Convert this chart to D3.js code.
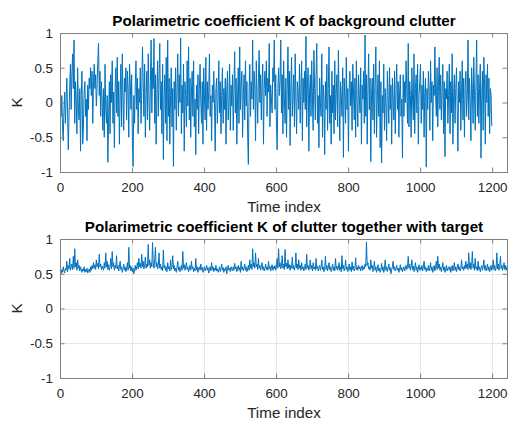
<!DOCTYPE html>
<html>
<head>
<meta charset="utf-8">
<script src="https://cdn.jsdelivr.net/npm/d3@7"></script>
<style>
  body { margin: 0; background: #fff; }
  text { font-family: "Liberation Sans", Arial, Helvetica, sans-serif; }
</style>
</head>
<body>
<div id="chart"></div>
<script>
// K of background clutter, every 2nd sample (time index 1..1199)
var clutterK = [
  -0.05, -0.2, 0.1, -0.35, -0.55, -0.1, 0.15, -0.3, 0.05, 0.35, -0.15, -0.68, -0.2, 0.25, 0.55, -0.1, 0.4, 0.7, 0.2, 0.9,
  -0.3, 0.3, 0.05, -0.45, 0.5, -0.1, -0.25, 0.2, -0.7, 0.1, 0.45, -0.6, -0.35, 0.15, 0.3, -0.2, 0.05, -0.55, 0.25, -0.1,
  0.35, 0.2, 0.5, 0.1, 0.45, -0.3, 0.3, 0.55, 0.2, 0.4, -0.05, 0.25, 0.6, 0.85, 0.1, 0.45, -0.2, 0.3, 0.05, -0.4,
  0.2, -0.5, 0.55, -0.1, -0.3, 0.1, -0.86, -0.2, 0.3, -0.45, 0.4, 0.0, 0.6, -0.3, 0.15, -0.65, 0.2, 0.5, -0.15, 0.65,
  -0.2, 0.3, -0.6, 0.1, 0.55, -0.35, 0.7, 0.05, -0.4, 0.35, 0.15, 0.5, -0.25, 0.45, 0.2, -0.5, 0.55, 0.3, -0.1, 0.4,
  -0.55, -0.92, 0.1, -0.3, 0.25, 0.6, -0.1, 0.35, -0.45, 0.2, 0.0, 0.5, -0.3, 0.15, 0.8, 0.3, -0.2, 0.55, -0.5, 0.1,
  0.45, -0.25, 0.7, 0.1, -0.4, 0.3, 0.9, -0.15, 0.5, 0.2, 0.92, -0.3, 0.4, -0.6, 0.15, 0.6, -0.2, 0.35, 0.85, -0.1,
  0.3, -0.45, 0.55, -0.82, 0.05, 0.4, -0.3, 0.65, -0.55, 0.9, -0.2, 0.35, -0.6, 0.1, 0.5, -0.35, 0.2, -0.92, 0.3, -0.1,
  0.5, -0.4, 0.2, 0.7, -0.2, 0.4, 0.0, 0.93, -0.45, 0.25, -0.15, 0.55, -0.7, 0.3, 0.1, -0.35, 0.6, -0.05, 0.8, -0.25,
  0.35, -0.5, 0.15, 0.45, -0.2, 0.6, -0.35, 0.05, -0.75, 0.25, -0.1, 0.4, -0.45, 0.2, 0.55, 0.0, -0.3, 0.3, -0.6, 0.5,
  0.1, -0.25, 0.65, -0.4, 0.3, -0.1, 0.15, 0.7, -0.2, 0.1, -0.55, 0.25, 0.0, 0.45, -0.05, -0.7, 0.2, 0.35, -0.3, 0.05,
  0.6, -0.15, 0.3, -0.45, 0.1, 0.5, -0.3, 0.2, -0.1, 0.35, -0.6, 0.15, 0.45, -0.25, 0.0, 0.55, -0.4, 0.25, -0.05, 0.4,
  -0.4, 0.2, 0.73, -0.15, 0.35, -0.6, 0.05, 0.5, -0.3, 0.8, -0.1, 0.25, 0.45, -0.5, 0.1, 0.4, -0.25, 0.6, -0.05, 0.3,
  -0.45, -0.89, 0.15, 0.55, -0.2, 0.3, 0.05, 0.9, -0.1, 0.45, 0.2, -0.55, 0.6, 0.1, -0.3, 0.35, 0.75, 0.0, 0.4, -0.25,
  0.3, 0.55, -0.6, 0.2, 0.45, 0.1, 0.6, -0.2, 0.35, 0.15, 0.85, -0.35, 0.25, 0.05, -0.15, 0.5, 0.3, 0.9, -0.1, 0.4,
  -0.3, -0.68, 0.2, 0.5, 0.1, 0.3, 0.9, -0.15, 0.4, -0.45, 0.6, 0.05, -0.3, 0.35, -0.5, 0.2, 0.8, -0.1, 0.45, -0.62,
  0.25, 0.65, -0.2, 0.1, 0.4, -0.35, 0.7, 0.05, -0.45, 0.3, 0.15, -0.1, 0.55, -0.3, 0.2, 0.6, -0.55, 0.35, 0.0, 0.45,
  -0.1, 0.95, -0.35, 0.3, 0.5, -0.7, 0.15, 0.4, -0.2, 0.6, 0.05, -0.4, 0.75, 0.2, -0.25, 0.4, 0.85, -0.3, 0.1, -0.65,
  0.35, 0.0, -0.2, 0.7, -0.5, 0.25, 0.05, -0.75, 0.3, -0.1, 0.55, -0.4, 0.2, 0.8, -0.3, 0.1, -0.6, 0.45, -0.15, 0.25,
  -0.45, 0.6, -0.25, 0.15, 0.4, -0.35, 0.75, 0.05, -0.55, 0.3, 0.1, -0.2, 0.5, -0.79, 0.35, 0.05, -0.3, 0.65, -0.1, 0.2,
  -0.7, 0.2, 0.45, -0.05, 0.3, -0.4, 0.55, 0.15, -0.25, 0.35, -0.5, 0.6, 0.0, -0.35, 0.4, 0.1, -0.15, 0.5, -0.6, 0.25,
  0.05, 0.45, -0.3, 0.97, -0.2, 0.4, -0.6, 0.2, 0.7, -0.1, 0.35, -0.85, 0.1, 0.35, -0.25, 0.55, -0.45, 0.25, 0.8, -0.5,
  0.05, 0.4, -0.2, 0.6, -0.65, 0.3, -0.87, 0.1, -0.15, 0.55, -0.4, 0.2, 0.0, -0.55, 0.45, 0.1, -0.3, 0.5, -0.1, 0.25,
  -0.6, 0.35, 0.05, -0.25, 0.45, -0.45, 0.2, 0.55, -0.1, 0.3, -0.5, 0.15, 0.4, -0.2, 0.05, -0.8, 0.4, -0.2, 0.3, 0.0,
  0.6, 0.15, -0.3, 0.85, -0.35, 0.3, 0.1, -0.5, 0.5, 0.05, -0.25, 0.7, -0.45, 0.2, 0.4, -0.15, 0.55, -0.6, 0.1, 0.3,
  0.55, -0.3, 0.25, -0.1, 0.45, -0.5, 0.15, 0.35, -0.93, 0.2, -0.1, 0.45, 0.15, -0.4, 0.6, 0.0, 0.3, -0.55, 0.25, 0.1,
  0.8, 0.1, -0.2, 0.5, -0.35, 0.25, 0.65, -0.1, 0.4, -0.25, 0.15, 0.55, -0.45, 0.3, -0.78, 0.2, 0.05, 0.45, -0.3, 0.1,
  0.55, -0.45, 0.3, -0.15, 0.7, -0.6, 0.1, 0.4, -0.3, 0.2, 0.5, -0.1, -0.7, 0.3, 0.0, 0.45, -0.4, 0.15, 0.6, -0.25,
  0.35, -0.5, 0.2, 0.45, -0.2, 0.1, 0.9, -0.25, 0.35, 0.05, -0.55, 0.5, 0.2, -0.3, 0.65, 0.1, -0.4, 0.3, 0.9, -0.2,
  0.4, -0.3, 0.2, 0.55, -0.8, 0.1, 0.45, -0.4, 0.65, 0.25, -0.6, 0.4, 0.0, 0.55, -0.2, 0.35, -0.45, 0.2, 0.1, -0.34
];

// K of clutter together with target, every 2nd sample (time index 1..1243)
var targetK = [
  0.53, 0.5, 0.56, 0.52, 0.6, 0.54, 0.51, 0.58, 0.55, 0.68, 0.53, 0.62, 0.57, 0.72, 0.55, 0.6, 0.64, 0.56, 0.75, 0.58,
  0.86, 0.6, 0.66, 0.55, 0.7, 0.58, 0.62, 0.54, 0.6, 0.56, 0.52, 0.57, 0.54, 0.6, 0.52, 0.56, 0.53, 0.58, 0.51, 0.55,
  0.57, 0.52, 0.6, 0.55, 0.62, 0.57, 0.66, 0.58, 0.63, 0.56, 0.7, 0.6, 0.65, 0.57, 0.78, 0.6, 0.64, 0.56, 0.61, 0.58,
  0.55, 0.66, 0.58, 0.8, 0.6, 0.68, 0.56, 0.63, 0.55, 0.6, 0.72, 0.57, 0.82, 0.6, 0.66, 0.55, 0.62, 0.58, 0.76, 0.57,
  0.62, 0.54, 0.6, 0.68, 0.56, 0.6, 0.52, 0.58, 0.64, 0.55, 0.6, 0.53, 0.57, 0.66, 0.55, 0.88, 0.58, 0.62, 0.54, 0.6,
  0.53, 0.58, 0.5, 0.56, 0.62, 0.55, 0.6, 0.66, 0.57, 0.72, 0.6, 0.65, 0.58, 0.78, 0.6, 0.68, 0.57, 0.63, 0.74, 0.58,
  0.64, 0.6, 0.92, 0.62, 0.7, 0.58, 0.66, 0.6, 0.95, 0.64, 0.58, 0.7, 0.88, 0.6, 0.66, 0.57, 0.62, 0.8, 0.58, 0.64,
  0.56, 0.6, 0.54, 0.84, 0.58, 0.62, 0.55, 0.6, 0.53, 0.66, 0.57, 0.6, 0.54, 0.7, 0.56, 0.6, 0.76, 0.57, 0.62, 0.54,
  0.58, 0.52, 0.6, 0.68, 0.55, 0.6, 0.53, 0.57, 0.62, 0.55, 0.82, 0.58, 0.63, 0.55, 0.6, 0.66, 0.56, 0.6, 0.53, 0.57,
  0.62, 0.55, 0.68, 0.57, 0.6, 0.53, 0.58, 0.54, 0.72, 0.56, 0.6, 0.52, 0.57, 0.6, 0.55, 0.64, 0.56, 0.59, 0.52, 0.56,
  0.6, 0.54, 0.57, 0.62, 0.55, 0.59, 0.51, 0.56, 0.6, 0.54, 0.66, 0.56, 0.6, 0.53, 0.58, 0.55, 0.62, 0.54, 0.57, 0.52,
  0.56, 0.6, 0.53, 0.58, 0.64, 0.55, 0.59, 0.52, 0.57, 0.55, 0.6, 0.5, 0.56, 0.62, 0.55, 0.58, 0.53, 0.6, 0.56, 0.54,
  0.6, 0.55, 0.65, 0.57, 0.6, 0.53, 0.57, 0.62, 0.55, 0.59, 0.52, 0.68, 0.56, 0.6, 0.54, 0.58, 0.64, 0.55, 0.6, 0.53,
  0.57, 0.62, 0.55, 0.7, 0.58, 0.64, 0.56, 0.86, 0.6, 0.66, 0.58, 0.8, 0.6, 0.64, 0.56, 0.72, 0.58, 0.62, 0.55, 0.6,
  0.66, 0.56, 0.6, 0.54, 0.58, 0.64, 0.56, 0.6, 0.55, 0.68, 0.57, 0.61, 0.54, 0.58, 0.63, 0.55, 0.6, 0.57, 0.62, 0.55,
  0.6, 0.72, 0.58, 0.86, 0.6, 0.66, 0.57, 0.62, 0.76, 0.58, 0.64, 0.56, 0.85, 0.6, 0.65, 0.57, 0.7, 0.58, 0.63, 0.55,
  0.62, 0.58, 0.74, 0.57, 0.62, 0.55, 0.6, 0.8, 0.58, 0.64, 0.56, 0.7, 0.58, 0.62, 0.55, 0.66, 0.57, 0.6, 0.54, 0.58,
  0.64, 0.56, 0.78, 0.58, 0.62, 0.55, 0.6, 0.7, 0.57, 0.62, 0.54, 0.66, 0.57, 0.6, 0.55, 0.72, 0.57, 0.61, 0.54, 0.58,
  0.62, 0.55, 0.6, 0.7, 0.56, 0.6, 0.53, 0.58, 0.75, 0.56, 0.62, 0.54, 0.59, 0.66, 0.56, 0.6, 0.53, 0.58, 0.64, 0.55,
  0.6, 0.54, 0.72, 0.57, 0.61, 0.55, 0.58, 0.66, 0.55, 0.6, 0.53, 0.76, 0.57, 0.62, 0.54, 0.58, 0.7, 0.56, 0.6, 0.53,
  0.58, 0.64, 0.55, 0.6, 0.53, 0.67, 0.56, 0.61, 0.54, 0.58, 0.73, 0.56, 0.6, 0.55, 0.62, 0.57, 0.6, 0.54, 0.58, 0.62,
  0.55, 0.6, 0.57, 0.64, 0.6, 0.96, 0.62, 0.66, 0.57, 0.6, 0.55, 0.7, 0.58, 0.62, 0.53, 0.58, 0.68, 0.55, 0.6, 0.52,
  0.57, 0.63, 0.54, 0.58, 0.52, 0.56, 0.65, 0.55, 0.6, 0.52, 0.57, 0.7, 0.55, 0.6, 0.53, 0.58, 0.64, 0.55, 0.59, 0.5,
  0.56, 0.6, 0.68, 0.56, 0.6, 0.54, 0.58, 0.62, 0.55, 0.58, 0.52, 0.57, 0.63, 0.55, 0.59, 0.53, 0.57, 0.6, 0.54, 0.58,
  0.62, 0.56, 0.6, 0.75, 0.58, 0.64, 0.55, 0.6, 0.7, 0.56, 0.61, 0.53, 0.58, 0.66, 0.55, 0.6, 0.52, 0.57, 0.63, 0.55,
  0.59, 0.56, 0.62, 0.54, 0.6, 0.68, 0.56, 0.6, 0.53, 0.58, 0.55, 0.62, 0.54, 0.58, 0.66, 0.55, 0.6, 0.52, 0.57, 0.62,
  0.54, 0.6, 0.68, 0.56, 0.75, 0.58, 0.64, 0.55, 0.6, 0.53, 0.58, 0.66, 0.55, 0.6, 0.52, 0.57, 0.62, 0.54, 0.58, 0.6,
  0.55, 0.6, 0.52, 0.57, 0.62, 0.54, 0.58, 0.66, 0.55, 0.6, 0.53, 0.58, 0.64, 0.56, 0.6, 0.54, 0.58, 0.7, 0.57, 0.6,
  0.55, 0.62, 0.57, 0.68, 0.58, 0.64, 0.56, 0.8, 0.58, 0.66, 0.56, 0.62, 0.82, 0.58, 0.64, 0.55, 0.72, 0.57, 0.6, 0.54,
  0.68, 0.56, 0.6, 0.53, 0.58, 0.62, 0.55, 0.6, 0.7, 0.56, 0.62, 0.54, 0.58, 0.64, 0.55, 0.6, 0.53, 0.57, 0.62, 0.55,
  0.6, 0.7, 0.56, 0.62, 0.54, 0.58, 0.8, 0.57, 0.64, 0.55, 0.6, 0.75, 0.57, 0.62, 0.55, 0.6, 0.66, 0.56, 0.62, 0.55,
  0.6, 0.58
];

var sampleStep = 2;
var xTicks = [0, 200, 400, 600, 800, 1000, 1200];
var yTicks = [-1, -0.5, 0, 0.5, 1];
var titles = [
  'Polarimetric coefficient K of background clutter',
  'Polarimetric coefficient K of clutter together with target'
];

var width = 508, height = 422,
    left = 60, right = 508,
    lineColor = '#0072BD',
    axisColor = '#262626',
    frameColor = '#808080';

var svg = d3.select('#chart').append('svg')
    .attr('width', width)
    .attr('height', height);

svg.append('rect').attr('width', width).attr('height', height).attr('fill', '#fff');

var x = d3.scaleLinear().domain([0, 1244]).range([left, right]);

function panel(data, title, top, bottom, grid, id) {
    var y = d3.scaleLinear().domain([-1, 1]).range([bottom, top]);
    var g = svg.append('g');

    g.append('clipPath').attr('id', id)
        .append('rect')
        .attr('x', left).attr('y', top)
        .attr('width', right - left).attr('height', bottom - top);

    if (grid) {
        g.selectAll('.gx').data(xTicks).enter()
            .append('line')
            .attr('x1', function(d){ return Math.round(x(d)) + 0.5; })
            .attr('x2', function(d){ return Math.round(x(d)) + 0.5; })
            .attr('y1', top).attr('y2', bottom)
            .attr('stroke', '#e6e6e6').attr('stroke-width', 1);
        g.selectAll('.gy').data(yTicks).enter()
            .append('line')
            .attr('y1', function(d){ return Math.round(y(d)) + 0.5; })
            .attr('y2', function(d){ return Math.round(y(d)) + 0.5; })
            .attr('x1', left).attr('x2', right)
            .attr('stroke', '#e6e6e6').attr('stroke-width', 1);
    }

    var line = d3.line()
        .x(function(d, i){ return x(1 + i * sampleStep); })
        .y(function(d){ return y(d); });

    g.append('path')
        .datum(data)
        .attr('clip-path', 'url(#' + id + ')')
        .attr('d', line)
        .attr('fill', 'none')
        .attr('stroke', lineColor)
        .attr('stroke-width', 1);

    var fmt = function(d){ return String(d); };

    // axes: ticks point inward like MATLAB
    var xb = g.append('g').attr('transform', 'translate(0,' + bottom + ')')
        .call(d3.axisBottom(x).tickValues(xTicks).tickFormat(fmt)
              .tickSizeInner(-4.5).tickSizeOuter(0).tickPadding(10));
    var xt = g.append('g').attr('transform', 'translate(0,' + top + ')')
        .call(d3.axisTop(x).tickValues(xTicks).tickFormat('')
              .tickSizeInner(-4.5).tickSizeOuter(0));
    var yl = g.append('g').attr('transform', 'translate(' + left + ',0)')
        .call(d3.axisLeft(y).tickValues(yTicks).tickFormat(fmt)
              .tickSizeInner(-4.5).tickSizeOuter(0).tickPadding(7));
    var yr = g.append('g').attr('transform', 'translate(' + (right - 1) + ',0)')
        .call(d3.axisRight(y).tickValues(yTicks).tickFormat('')
              .tickSizeInner(-4.5).tickSizeOuter(0));

    [xb, xt, yl, yr].forEach(function(a) {
        a.select('.domain').attr('stroke', frameColor).attr('stroke-width', 1);
        a.selectAll('.tick line').attr('stroke', frameColor).attr('stroke-width', 1);
        a.selectAll('.tick text')
            .attr('fill', axisColor)
            .style('font-size', '13.4px')
            .style('font-family', '"Liberation Sans", Arial, sans-serif');
    });

    g.append('text')
        .attr('x', (left + right) / 2).attr('y', top - 7)
        .attr('text-anchor', 'middle')
        .style('font-size', '15.2px').style('font-weight', 'bold')
        .attr('fill', '#000')
        .text(title);

    g.append('text')
        .attr('x', (left + right) / 2).attr('y', bottom + 40)
        .attr('text-anchor', 'middle')
        .style('font-size', '15.2px')
        .attr('fill', axisColor)
        .text('Time index');

    g.append('text')
        .attr('transform', 'translate(22,' + ((top + bottom) / 2) + ') rotate(-90)')
        .attr('text-anchor', 'middle')
        .style('font-size', '15.2px')
        .attr('fill', axisColor)
        .text('K');
}

panel(clutterK, titles[0], 33, 172, false, 'clip1');
panel(targetK, titles[1], 239, 378, true, 'clip2');
</script>
</body>
</html>
